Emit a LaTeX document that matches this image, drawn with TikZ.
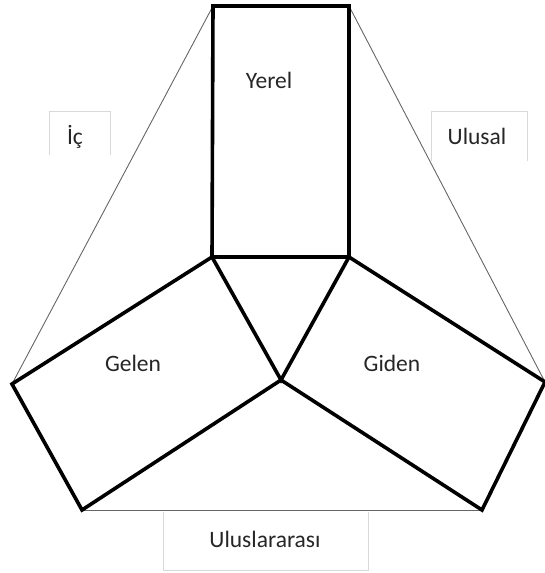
\documentclass[tikz,border=0pt]{standalone}
\usepackage{fontspec}
\setmainfont{Carlito}
\begin{document}
\begin{tikzpicture}[x=1pt,y=-1pt,
  thickline/.style={line width=3.6pt,line join=miter,black},
  thinline/.style={line width=0.9pt,gray!80!black},
  labelbox/.style={line width=0.9pt,black!15},
  lbl/.style={anchor=base,inner sep=0pt,font=\fontsize{23.5}{28}\selectfont,text=black!85}]
\useasboundingbox (0,0) rectangle (545,573);
% vertices
\coordinate (A) at (213,6);
\coordinate (B) at (349,6);
\coordinate (C) at (212,257);
\coordinate (D) at (349,257);
\coordinate (E) at (281,380);
\coordinate (F) at (12,384);
\coordinate (G) at (82,510);
\coordinate (H) at (545,382);
\coordinate (I) at (482,510);
% thin triangle sides
\draw[thinline] (A) -- (F);
\draw[thinline] (B) -- (H);
\draw[thinline] (G) -- (I);
% label boxes (open at one side)
\draw[labelbox] (49,155) -- (49,111) -- (110,111) -- (110,155);
\draw[labelbox] (431,161) -- (431,111) -- (527,111) -- (527,161);
\draw[labelbox] (163,512) -- (163,570) -- (368,570) -- (368,512);
% thick shapes
\draw[thickline] (A) -- (B) -- (D) -- (C) -- cycle;
\draw[thickline] (C) -- (E) -- (D);
\draw[thickline] (C) -- (F) -- (G) -- (E);
\draw[thickline] (D) -- (H) -- (I) -- (E);
% labels
\node[lbl] (yerel) at (269,88) {Yerel};
\node[lbl] (gelen) at (133,371) {Gelen};
\node[lbl] (giden) at (392,371) {Giden};
\node[lbl] (ic) at (75,144) {İç};
\node[lbl] (ulusal) at (477,144) {Ulusal};
\node[lbl] (ulusl) at (265,547) {Uluslararası};
\end{tikzpicture}
\end{document}
